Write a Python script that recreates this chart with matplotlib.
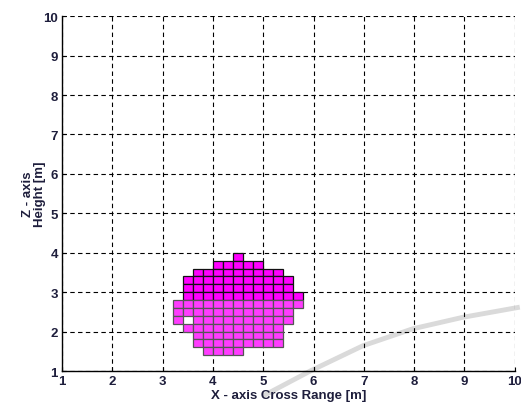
import matplotlib
matplotlib.use("Agg")
import matplotlib.pyplot as plt

plt.rcParams["font.family"] = ["Liberation Sans", "DejaVu Sans"]

# occupied voxel rows: bottom height, first cell x, end x, 0.2 m cells
row_z = [3.8, 3.6, 3.4, 3.2, 3.0, 2.8, 2.6, 2.4, 2.2, 2.0, 1.8, 1.6, 1.4]
row_x0 = [4.4, 4.0, 3.6, 3.4, 3.4, 3.4, 3.2, 3.2, 3.2, 3.4, 3.6, 3.6, 3.8]
row_x1 = [4.6, 5.0, 5.4, 5.6, 5.6, 5.8, 5.8, 5.6, 5.6, 5.4, 5.4, 5.4, 4.6]
holes = [(3.4, 2.2)]
cell = 0.2
split_z = 2.8  # rows at or above are drawn darker

# faint scan mark across the lower right
mark_x = [5.0, 5.95, 6.98, 7.97, 8.96, 10.1]
mark_z = [0.37, 1.01, 1.64, 2.07, 2.36, 2.62]

ticks = list(range(1, 11))
label_col = "#1e1e3c"

fig = plt.figure(figsize=(5.21, 4.06), dpi=100)
ax = fig.add_axes([0.119, 0.0837, 0.869, 0.874])

ax.plot(mark_x, mark_z, color="#dadada", lw=3.5, solid_capstyle="butt",
        clip_on=False, zorder=1)

for z, x0, x1 in zip(row_z, row_x0, row_x1):
    n = int(round((x1 - x0) / cell))
    xs = [x0 + i * cell for i in range(n)]
    xs = [x for x in xs if not any(abs(x - hx) < 1e-6 and abs(z - hz) < 1e-6 for hx, hz in holes)]
    if z >= split_z - 1e-6:
        fc, ec = "#ff00ff", "#111111"
    else:
        fc, ec = "#ff3cff", "#555555"
    ax.bar(xs, [cell] * len(xs), width=cell, bottom=z, align="edge",
           color=fc, edgecolor=ec, linewidth=0.9, zorder=3)

ax.set_xlim(1, 10)
ax.set_ylim(1, 10)
ax.set_xticks(ticks)
ax.set_yticks(ticks)
ax.grid(True, color="black", linestyle=(0, (4, 3)), linewidth=0.8, zorder=2)
ax.set_axisbelow(False)
for s in ["top", "right"]:
    ax.spines[s].set_visible(False)
for s in ["left", "bottom"]:
    ax.spines[s].set_linewidth(1.0)
    ax.spines[s].set_zorder(4)
ax.tick_params(direction="in", length=3, labelsize=9.5, labelcolor=label_col, pad=3)
for lab in ax.get_xticklabels() + ax.get_yticklabels():
    lab.set_fontweight("bold")

ax.set_xlabel("X - axis Cross Range [m]", fontsize=9.5, fontweight="bold", color=label_col, labelpad=1)
ax.set_ylabel("Z - axis\nHeight [m]", fontsize=9.5, fontweight="bold", color=label_col,
              linespacing=1.0)
ax.yaxis.set_label_coords(-0.036, 0.5)

fig.savefig("out.png", dpi=100)
